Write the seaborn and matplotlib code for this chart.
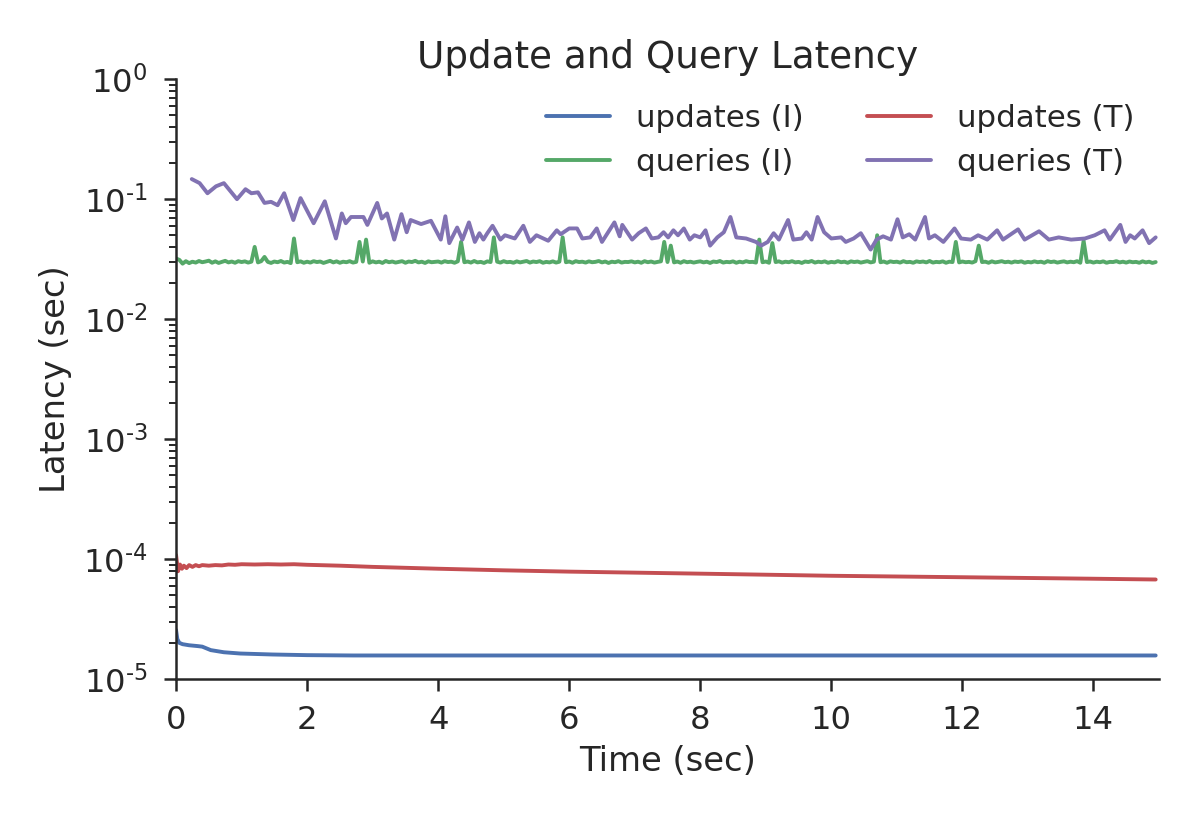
import numpy as np
import matplotlib
matplotlib.use("Agg")
import matplotlib.pyplot as plt
from matplotlib import ticker
import seaborn as sns

# time grid for queries (I): start + step, 300 samples
qi_start = 0.0
qi_step = 0.05
# queries (I) latency in ms
queries_i_ms = [
    32.0, 31.2, 29.0, 30.4, 29.3, 30.1, 29.6, 30.5, 29.8, 30.2, 30.7, 29.5, 30.3, 29.4, 30.0, 30.6, 29.7, 30.2, 29.5, 30.4,
    29.9, 30.3, 29.6, 30.1, 40.0, 29.7, 30.4, 33.0, 30.0, 29.4, 30.2, 29.8, 30.5, 29.6, 30.0, 29.3, 47.0, 29.8, 30.3, 29.5,
    30.1, 29.6, 30.4, 29.9, 30.2, 29.4, 30.0, 30.6, 29.7, 30.3, 29.5, 30.1, 29.8, 30.4, 29.6, 30.0, 44.0, 30.2, 46.0, 29.5,
    30.3, 29.7, 30.1, 29.4, 30.5, 29.8, 30.2, 29.6, 30.0, 30.4, 29.5, 30.2, 29.9, 30.6, 29.7, 30.1, 29.4, 30.3, 29.8, 30.0,
    30.2, 29.6, 30.4, 29.9, 30.1, 29.5, 30.3, 44.0, 29.8, 30.2, 29.6, 30.5, 29.7, 30.0, 29.4, 30.3, 29.9, 48.0, 30.1, 29.6,
    30.4, 29.8, 30.0, 29.5, 30.3, 29.7, 30.1, 30.5, 29.6, 30.2, 29.9, 30.4, 29.5, 30.0, 29.7, 30.3, 29.6, 30.1, 48.0, 29.8,
    30.2, 29.5, 30.4, 29.9, 30.1, 29.6, 30.3, 29.8, 30.0, 30.5, 29.7, 30.2, 29.4, 30.1, 29.8, 30.4, 29.6, 30.0, 29.9, 30.3,
    29.7, 30.1, 29.5, 30.4, 29.8, 30.2, 29.6, 30.0, 30.3, 44.0, 29.9, 41.0, 29.7, 30.2, 29.5, 30.4, 29.8, 30.1, 29.6, 30.0,
    30.3, 29.7, 30.1, 29.4, 30.2, 29.9, 30.5, 29.6, 30.0, 29.8, 30.3, 29.5, 30.1, 29.7, 30.4, 29.9, 30.0, 29.6, 46.0, 29.8,
    30.2, 29.5, 43.0, 29.9, 30.3, 29.6, 30.1, 29.8, 30.4, 29.7, 30.0, 29.4, 30.2, 29.9, 30.5, 29.6, 30.1, 29.8, 30.3, 29.5,
    30.0, 29.7, 30.4, 29.8, 30.1, 29.5, 30.3, 29.9, 30.2, 29.6, 30.0, 30.4, 29.7, 30.1, 50.0, 29.8, 30.2, 29.5, 30.3, 29.9,
    30.1, 29.6, 30.4, 29.8, 30.0, 29.5, 30.3, 29.9, 30.2, 29.7, 30.5, 29.6, 30.0, 29.8, 30.3, 29.5, 30.1, 29.9, 44.0, 29.7,
    30.2, 29.8, 30.0, 29.6, 30.4, 41.0, 29.9, 30.1, 29.5, 30.3, 29.7, 30.0, 30.4, 29.8, 30.1, 29.6, 30.2, 29.9, 30.3, 29.5,
    30.0, 29.7, 30.3, 29.8, 30.1, 29.5, 30.4, 29.9, 30.2, 29.6, 30.0, 30.3, 29.7, 30.1, 29.8, 30.4, 29.5, 45.0, 29.9, 30.2,
    29.6, 30.1, 29.8, 30.3, 29.5, 30.0, 29.9, 30.4, 29.7, 30.1, 29.6, 30.2, 29.8, 30.0, 29.5, 30.3, 29.7, 30.1, 29.4, 29.9,
]

# queries (T): traced (time, ms) pairs
queries_t_time = [
    0.24, 0.36, 0.48, 0.61, 0.73, 0.93, 1.06, 1.15, 1.25, 1.35,
    1.45, 1.55, 1.65, 1.79, 1.90, 2.10, 2.27, 2.44, 2.53, 2.59,
    2.67, 2.86, 2.92, 3.07, 3.14, 3.22, 3.33, 3.44, 3.52, 3.58,
    3.74, 3.89, 4.04, 4.11, 4.17, 4.29, 4.37, 4.47, 4.56, 4.63,
    4.69, 4.75, 4.83, 4.95, 5.02, 5.17, 5.30, 5.40, 5.50, 5.68,
    5.81, 5.87, 6.00, 6.12, 6.20, 6.32, 6.42, 6.50, 6.69, 6.77,
    6.81, 6.96, 7.06, 7.17, 7.26, 7.36, 7.44, 7.51, 7.59, 7.66,
    7.75, 7.84, 7.91, 8.00, 8.08, 8.15, 8.26, 8.36, 8.46, 8.55,
    8.70, 8.85, 8.93, 9.03, 9.12, 9.20, 9.34, 9.42, 9.55, 9.62,
    9.70, 9.79, 9.89, 10.00, 10.15, 10.22, 10.34, 10.45, 10.60, 10.69,
    10.79, 10.91, 11.01, 11.09, 11.19, 11.28, 11.43, 11.49, 11.58, 11.71,
    11.88, 11.98, 12.13, 12.24, 12.38, 12.53, 12.62, 12.85, 12.95, 13.17,
    13.32, 13.47, 13.66, 13.87, 14.02, 14.17, 14.25, 14.41, 14.49, 14.56,
    14.63, 14.75, 14.85, 14.95,
]
queries_t_ms = [
    147, 136, 112, 128, 136, 100, 121, 112, 114, 93,
    95, 89, 112, 67, 102, 63, 96, 47, 76, 63,
    71, 71, 61, 93, 69, 76, 46, 75, 53, 67,
    62, 66, 46, 72, 43, 58, 46, 64, 44, 52,
    46, 52, 60, 46, 50, 47, 60, 44, 50, 45,
    55, 51, 57, 57, 47, 48, 57, 44, 64, 49,
    61, 46, 52, 57, 47, 48, 53, 48, 55, 50,
    57, 46, 50, 48, 55, 41, 48, 53, 71, 48,
    47, 44, 41, 44, 52, 46, 67, 46, 47, 53,
    46, 71, 53, 47, 48, 44, 47, 52, 38, 46,
    49, 46, 68, 48, 51, 46, 71, 47, 50, 44,
    57, 47, 46, 50, 46, 55, 46, 56, 46, 54,
    46, 48, 46, 47, 50, 55, 46, 61, 44, 50,
    47, 55, 43, 48,
]

# updates (T): (time, latency in 1e-5 s)
updates_t_time = [0.00, 0.03, 0.06, 0.09, 0.12, 0.16, 0.20, 0.25, 0.30, 0.35, 0.40, 0.50, 0.60,
                  0.70, 0.80, 0.90, 1.00, 1.20, 1.40, 1.60, 1.80, 2.00, 2.50, 3.00, 4.00, 5.00,
                  6.00, 7.00, 8.00, 9.00, 10.00, 11.00, 12.00, 13.00, 14.00, 14.95]
updates_t_1e5 = [10.8, 7.9, 9.0, 8.3, 8.8, 8.4, 8.9, 8.6, 8.9, 8.7, 8.9, 8.8, 8.9,
                 8.85, 9.0, 8.95, 9.05, 9.0, 9.05, 9.0, 9.05, 8.95, 8.8, 8.6, 8.3, 8.05,
                 7.85, 7.7, 7.55, 7.4, 7.25, 7.15, 7.05, 6.95, 6.85, 6.75]

# updates (I): (time, latency in 1e-5 s)
updates_i_time = [0.00, 0.02, 0.05, 0.10, 0.20, 0.33, 0.40, 0.53, 0.73, 0.98, 1.47, 2.00,
                  2.71, 4.00, 8.00, 14.95]
updates_i_1e5 = [2.56, 2.15, 2.00, 1.95, 1.91, 1.88, 1.86, 1.74, 1.67, 1.63, 1.60, 1.58,
                 1.57, 1.57, 1.57, 1.57]

sns.set_style("ticks")
plt.rcParams["font.family"] = ["DejaVu Sans"]
plt.rcParams["axes.unicode_minus"] = False

colors = {"updates (I)": "#4C72B0", "queries (I)": "#55A868",
          "updates (T)": "#C44E52", "queries (T)": "#8172B2"}

qi_time = qi_start + qi_step * np.arange(len(queries_i_ms))

fig = plt.figure(figsize=(6, 4.125), dpi=200)
ax = fig.add_axes([0.1467, 0.177, 0.8191, 0.727])

lw = 1.4
sns.lineplot(x=updates_i_time, y=np.array(updates_i_1e5) * 1e-5, color=colors["updates (I)"],
             label="updates (I)", lw=lw, sort=False, ax=ax)
sns.lineplot(x=qi_time, y=np.array(queries_i_ms) * 1e-3, color=colors["queries (I)"],
             label="queries (I)", lw=lw, sort=False, ax=ax)
sns.lineplot(x=updates_t_time, y=np.array(updates_t_1e5) * 1e-5, color=colors["updates (T)"],
             label="updates (T)", lw=lw, sort=False, ax=ax)
sns.lineplot(x=queries_t_time, y=np.array(queries_t_ms) * 1e-3, color=colors["queries (T)"],
             label="queries (T)", lw=lw, sort=False, ax=ax)

ax.set_yscale("log")
ax.set_ylim(1e-5, 1)
ax.set_xlim(0, 15)
ax.set_xticks(range(0, 15, 2))


def pow10(v, pos):
    e = int(np.round(np.log10(v)))
    if e < 0:
        return r"$\mathdefault{10^{\text{-}%d}}$" % (-e)
    return r"$\mathdefault{10^{%d}}$" % e


ax.yaxis.set_major_formatter(ticker.FuncFormatter(pow10))
ax.tick_params(axis="both", which="major", labelsize=11.6, length=4.2, width=0.9, color="#262626")
ax.tick_params(axis="x", which="major", pad=5)
ax.tick_params(axis="y", which="major", pad=6)
ax.tick_params(axis="y", which="minor", length=2.6, width=0.7, color="#262626")
for s in ["left", "bottom"]:
    ax.spines[s].set_color("#262626")
    ax.spines[s].set_linewidth(0.9)
sns.despine(ax=ax)

ax.set_title("Update and Query Latency", fontsize=13.4, color="#262626", pad=4)
ax.set_xlabel("Time (sec)", fontsize=12.2, color="#262626", labelpad=3.5)
ax.set_ylabel("Latency (sec)", fontsize=12.2, color="#262626", labelpad=4)

ax.legend(loc="upper right", ncol=2, frameon=False, fontsize=11.1,
          handlelength=2.08, handletextpad=0.84, columnspacing=2.05, borderaxespad=0.4)

fig.savefig("out.png", dpi=200)
